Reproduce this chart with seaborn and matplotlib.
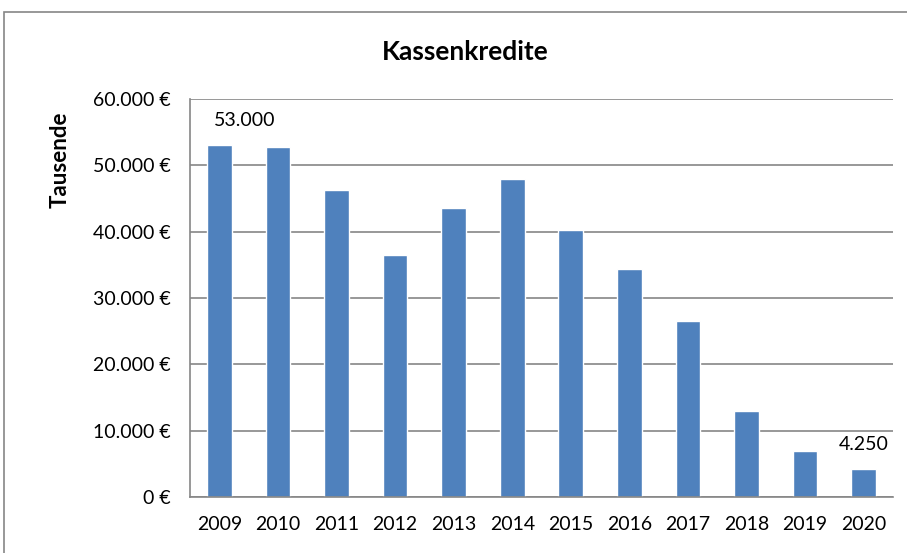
import matplotlib
matplotlib.use("Agg")
import matplotlib.pyplot as plt
from matplotlib.patches import Rectangle
from matplotlib.ticker import FuncFormatter, FixedLocator
import seaborn as sns
import pandas as pd

# Werte (Tausende Euro)
years = ["2009", "2010", "2011", "2012", "2013", "2014",
         "2015", "2016", "2017", "2018", "2019", "2020"]
credits = [53000, 52700, 46300, 36500, 43500, 48000,
           40300, 34300, 26500, 13000, 7000, 4250]
labelled = {"2009": "53.000", "2020": "4.250"}

df = pd.DataFrame({"Jahr": years, "Kassenkredite": credits})

sns.set_style("white")
plt.rcParams["font.family"] = ["Lato", "DejaVu Sans"]

fig = plt.figure(figsize=(9.07, 5.53), dpi=100)
ax = fig.add_axes([190 / 907, 1 - 497 / 553, (893 - 190) / 907, (497 - 99) / 553])

sns.barplot(data=df, x="Jahr", y="Kassenkredite", color="#4F81BD",
            saturation=1, width=0.42, ax=ax)

ax.set_ylim(0, 60000)
ax.set_xlim(-0.5, len(years) - 0.5)
ax.set_yticks(range(0, 60001, 10000))
ax.yaxis.set_major_formatter(
    FuncFormatter(lambda v, p: f"{int(v):,}".replace(",", ".") + " €"))
ax.grid(axis="y", color="#868686", linewidth=1.2)
ax.set_axisbelow(True)

# Kategorie-Trennstriche wie in Excel
ax.xaxis.set_minor_locator(FixedLocator([i - 0.5 for i in range(len(years) + 1)]))
ax.tick_params(axis="x", which="major", length=0, pad=14, labelsize=14, labelcolor="black")
ax.tick_params(axis="x", which="minor", length=6, color="#868686", width=1.2)
ax.tick_params(axis="y", length=6, color="#868686", width=1.2, labelsize=14,
               pad=8, labelcolor="black")

for side in ["top", "right"]:
    ax.spines[side].set_visible(False)
for side in ["left", "bottom"]:
    ax.spines[side].set_color("#868686")
    ax.spines[side].set_linewidth(1.2)

ax.set_xlabel("")
ax.set_ylabel("")

# Datenbeschriftungen
for i, y in enumerate(years):
    if y in labelled:
        ax.annotate(labelled[y], (i, credits[i]), xytext=(0.43 if i == 0 else i, credits[i] + 3700),
                    ha="center", va="center", fontsize=14, color="black")

fig.text(465 / 907, 1 - 52 / 553, "Kassenkredite", ha="center", va="center",
         fontsize=19, fontweight="bold", color="black")
fig.text(60 / 907, 1 - 160 / 553, "Tausende", ha="center", va="center",
         rotation=90, fontsize=16, fontweight="bold", color="black")

# Rahmen um das Diagramm
fig.patches.append(Rectangle((4 / 907, -0.05), 1.05, 1 - 12 / 553 + 0.05,
                             transform=fig.transFigure, fill=False,
                             edgecolor="#868686", linewidth=1.2))

fig.savefig("out.png", dpi=100)
